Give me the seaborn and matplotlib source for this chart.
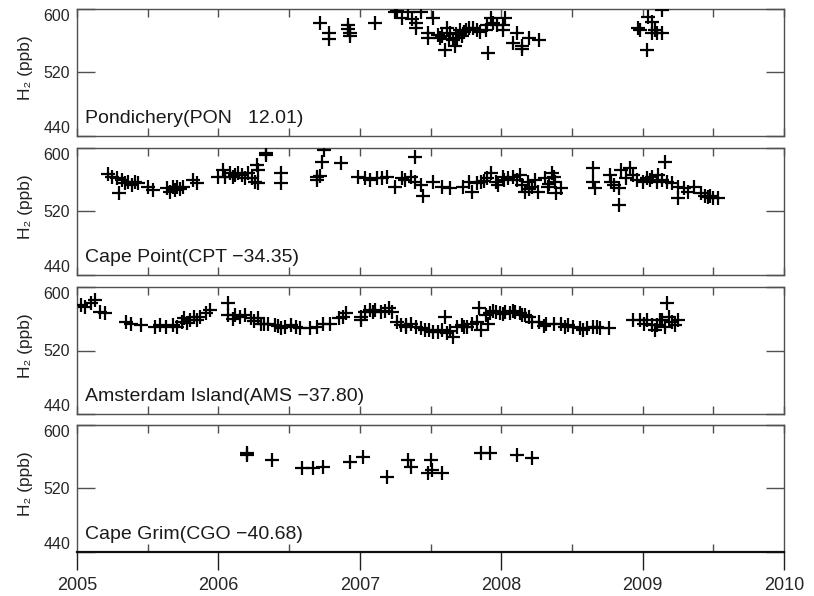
import numpy as np
import pandas as pd
import matplotlib
matplotlib.use("Agg")
import matplotlib.pyplot as plt
import seaborn as sns

# ---- station metadata ----
stations = ["Pondichery(PON   12.01)", "Cape Point(CPT \u221234.35)",
            "Amsterdam Island(AMS \u221237.80)", "Cape Grim(CGO \u221240.68)"]

# ---- H2 mixing ratios (ppb) vs decimal year ----
pon_year = [2006.72, 2006.78, 2006.78, 2006.92, 2006.92, 2006.93, 2006.93, 2007.11,
            2007.25, 2007.26, 2007.30, 2007.34, 2007.37, 2007.40, 2007.43, 2007.40,
            2007.52, 2007.48, 2007.48, 2007.55, 2007.57, 2007.60, 2007.62, 2007.64,
            2007.66, 2007.67, 2007.69, 2007.71, 2007.74, 2007.77, 2007.80, 2007.83,
            2007.85, 2007.89, 2007.90, 2007.93, 2007.94, 2007.97, 2008.01, 2008.03,
            2008.01, 2007.91, 2008.08, 2008.11, 2008.15, 2008.15, 2008.20, 2008.27,
            2008.97, 2008.98, 2009.04, 2009.07, 2009.09, 2009.10, 2009.14, 2009.03,
            2009.14, 2009.07, 2007.58, 2007.63, 2007.68, 2007.72, 2007.75]
pon_h2 = [582, 569.5, 562, 580, 575, 569.5, 566, 582,
          596, 598, 589, 596, 587, 582, 596, 576,
          589, 569.5, 563, 567, 563, 548, 576, 569.5,
          561, 554, 564, 573, 571, 576, 576, 573,
          571, 573, 580, 589, 582, 580, 573, 589,
          580, 544, 557, 569.5, 554, 550, 563, 561,
          576, 574, 590, 583, 573, 569.5, 569.5, 548,
          598.7, 569.5, 566, 562, 568, 566, 574]

cpt_year = [2005.22, 2005.25, 2005.28, 2005.30, 2005.32, 2005.34, 2005.36, 2005.39,
            2005.41, 2005.43, 2005.50, 2005.54, 2005.64, 2005.66, 2005.68, 2005.71,
            2005.75, 2005.82, 2005.85, 2006.00, 2006.03, 2006.05, 2006.08, 2006.12,
            2006.14, 2006.17, 2006.21, 2006.24, 2006.26, 2006.28, 2006.27, 2006.28,
            2006.34, 2006.34, 2006.44, 2006.44, 2006.70, 2006.70, 2006.73, 2006.75,
            2006.87, 2006.99, 2007.04, 2007.07, 2007.12, 2007.16, 2007.19, 2007.25,
            2007.30, 2007.32, 2007.36, 2007.39, 2007.39, 2007.43, 2007.45, 2007.52,
            2007.58, 2007.64, 2007.73, 2007.77, 2007.79, 2007.83, 2007.86, 2007.90,
            2007.93, 2007.96, 2007.98, 2008.01, 2008.05, 2008.08, 2008.11, 2008.13,
            2008.15, 2008.17, 2008.19, 2008.22, 2008.24, 2008.26, 2008.31, 2008.33,
            2008.36, 2008.37, 2008.38, 2008.39, 2008.42, 2008.65, 2008.65, 2008.66,
            2008.77, 2008.78, 2008.80, 2008.83, 2008.83, 2008.85, 2008.88, 2008.91,
            2008.93, 2008.96, 2009.00, 2009.03, 2009.07, 2009.10, 2009.11, 2009.16,
            2009.17, 2009.21, 2009.25, 2009.25, 2009.29, 2009.32, 2009.36, 2009.41,
            2009.44, 2009.46, 2009.50, 2009.53, 2005.69, 2005.73, 2006.10, 2006.19,
            2006.72, 2007.88, 2008.02, 2008.20, 2008.34, 2009.05, 2009.14, 2009.48]
cpt_h2 = [567, 563, 562, 543, 559.4, 555.5, 556.8, 553,
          556.8, 555.5, 550.5, 546.7, 549, 544, 550.5, 550.5,
          550.5, 559.4, 555.5, 563, 572, 563, 568, 565.7,
          568, 565.7, 568, 562, 556.8, 555.5, 578.4, 572,
          593.7, 591, 568, 555.5, 563, 559.4, 582, 597.5,
          581, 563, 562, 559.4, 562, 562, 563, 550.5,
          562, 559.4, 563, 588.6, 556.8, 553, 540, 556.8,
          550.5, 549, 550.5, 556.8, 544, 555.5, 556.8, 562,
          568, 556.8, 553, 563, 562, 563, 559.4, 565.7,
          553, 544, 556.8, 550.5, 559.4, 544, 562, 550.5,
          568, 563, 556.8, 543, 549, 574.6, 556.8, 549,
          565.7, 556.8, 553, 549, 527.6, 572, 562, 574.6,
          565.7, 559.4, 556.8, 562, 563, 556.8, 565.7, 582,
          556.8, 555.5, 550.5, 536.5, 549, 544, 550.5, 543,
          540, 538, 536.5, 536.5, 547, 548, 563, 562,
          565, 559, 560, 548, 555, 560, 560, 540]

ams_year = [2005.03, 2005.06, 2005.10, 2005.13, 2005.16, 2005.20, 2005.35, 2005.38,
            2005.45, 2005.55, 2005.59, 2005.63, 2005.68, 2005.71, 2005.74, 2005.76,
            2005.80, 2005.83, 2005.87, 2005.91, 2005.94, 2006.07, 2006.07, 2006.12,
            2006.15, 2006.19, 2006.23, 2006.28, 2006.32, 2006.35, 2006.40, 2006.44,
            2006.47, 2006.51, 2006.55, 2006.58, 2006.65, 2006.70, 2006.74, 2006.79,
            2006.85, 2006.88, 2006.90, 2007.01, 2007.01, 2007.04, 2007.07, 2007.11,
            2007.15, 2007.21, 2007.23, 2007.26, 2007.29, 2007.33, 2007.33, 2007.40,
            2007.46, 2007.52, 2007.58, 2007.60, 2007.62, 2007.66, 2007.69, 2007.72,
            2007.76, 2007.79, 2007.83, 2007.84, 2007.86, 2007.89, 2007.91, 2007.92,
            2007.96, 2007.99, 2008.03, 2008.06, 2008.10, 2008.13, 2008.17, 2008.20,
            2008.22, 2008.27, 2008.32, 2008.37, 2008.42, 2008.47, 2008.51, 2008.56,
            2008.61, 2008.65, 2008.70, 2008.76, 2008.93, 2008.98, 2009.03, 2009.07,
            2009.09, 2009.12, 2009.16, 2009.17, 2009.19, 2009.21, 2009.25,
            2005.78, 2005.85, 2006.10, 2006.25, 2006.30, 2006.42, 2007.09, 2007.18,
            2007.36, 2007.43, 2007.49, 2007.55, 2007.64, 2007.74, 2007.94, 2008.01,
            2008.08, 2008.15, 2008.30, 2008.45, 2008.58, 2008.68, 2009.01, 2009.10,
            2009.14, 2009.23]
ams_h2 = [577, 574.6, 579.7, 583.5, 568, 567, 555.5, 554,
          551.7, 549, 551.7, 549, 551.7, 549, 555.5, 560.6,
          558, 562, 562, 567, 570.8, 579.7, 564.4, 564.4,
          562, 564.4, 560.6, 560.6, 554, 554, 551.7, 548,
          549, 551.7, 549, 548, 548, 549, 554, 554,
          560.6, 562, 567, 562, 558, 568, 570.8, 570.8,
          568, 573.3, 568, 555.5, 551.7, 549, 551.7, 549,
          545.4, 543, 545.4, 562, 541.6, 536.5, 549, 551.7,
          549, 554, 555.5, 573.3, 545.4, 564.4, 554, 567,
          568, 567, 568, 567, 568, 567, 564.4, 562,
          555.5, 555.5, 554, 554, 554, 551.7, 549, 548,
          548, 549, 548, 548, 558, 558, 558, 551.7,
          545.4, 558, 549, 579.7, 562, 555.5, 558,
          555, 558, 560, 557, 553, 551, 568, 570,
          553, 548, 546, 543, 545, 549, 570, 566,
          570, 565, 551, 550, 546, 550, 554, 552,
          559, 552]

cgo_year = [2006.20, 2006.38, 2006.59, 2006.67, 2006.74, 2006.93, 2007.02, 2007.19,
            2007.34, 2007.36, 2007.48, 2007.50, 2007.51, 2007.58, 2007.86, 2007.92,
            2008.11, 2008.22, 2006.20]
cgo_h2 = [564.4, 555.5, 545.4, 545.4, 546.7, 553, 559.4, 534,
          555.5, 546.7, 539, 555.5, 543, 539, 564.4, 564.4,
          562, 558, 562]

series = [(pon_year, pon_h2), (cpt_year, cpt_h2), (ams_year, ams_h2), (cgo_year, cgo_h2)]

frames = []
for name, (yr, h2) in zip(stations, series):
    frames.append(pd.DataFrame({"year": yr, "h2": h2, "station": name}))
data = pd.concat(frames, ignore_index=True)

sns.set_style("ticks")
plt.rcParams["font.family"] = ["Liberation Sans", "DejaVu Sans"]

W, H = 814, 596
fig = plt.figure(figsize=(W / 100, H / 100), dpi=100)

left_px, right_px = 77, 784
panel_tops = [9, 148, 287, 425]
panel_h = 127
frame_col = "#505050"

axes = []
for i, name in enumerate(stations):
    top = panel_tops[i]
    rect = [left_px / W, 1 - (top + panel_h) / H, (right_px - left_px) / W, panel_h / H]
    ax = fig.add_axes(rect)
    sub = data[data["station"] == name]
    sns.scatterplot(data=sub, x="year", y="h2", marker="+", s=110, color="black",
                    linewidth=1.6, ax=ax, legend=False, zorder=3)
    ax.set_xlim(2005, 2010)
    ax.set_ylim(440, 600)
    ax.set_yticks([440, 520, 600])
    ax.set_xlabel("")
    ax.set_ylabel("H\u2082 (ppb)", fontsize=12.5, color="#222222")
    ax.yaxis.set_label_coords(-0.062, 0.54)
    for sp in ax.spines.values():
        sp.set_visible(True)
        sp.set_color(frame_col)
        sp.set_linewidth(1.0)
    ax.tick_params(axis="y", which="major", direction="in", length=13, width=1.0,
                   left=True, right=True, color=frame_col, labelsize=11.5, pad=5)
    # keep the end labels inside their own panel
    ylabels = ax.get_yticklabels()
    ylabels[0].set_verticalalignment("bottom")
    ylabels[-1].set_verticalalignment("top")
    ax.text(0.011, 0.105, name, transform=ax.transAxes, fontsize=14,
            ha="left", va="baseline", color="#1a1a1a")
    if i < 3:
        ax.set_xticks(np.arange(2005, 2010.01, 0.5))
        ax.tick_params(axis="x", which="major", direction="in", length=6, width=1.0,
                       top=True, bottom=True, labelbottom=False, color=frame_col)
    else:
        ax.set_xticks(np.arange(2005, 2010.01, 1.0))
        ax.set_xticks(np.arange(2005.5, 2010, 1.0), minor=True)
        ax.set_xticklabels([str(y) for y in range(2005, 2011)])
        ax.tick_params(axis="x", which="major", direction="out", length=13, width=1.0,
                       top=False, bottom=True, color="#202020", labelsize=13, pad=5)
        ax.tick_params(axis="x", which="minor", direction="in", length=6, width=1.0,
                       top=False, bottom=True, color=frame_col)
        ax.spines["bottom"].set_color("#101010")
        ax.spines["bottom"].set_linewidth(1.6)
        top_ax = ax.secondary_xaxis("top")
        top_ax.set_xticks(np.arange(2005, 2010.01, 0.5))
        top_ax.tick_params(axis="x", direction="in", length=6, width=1.0,
                           labeltop=False, color=frame_col)
        top_ax.spines["top"].set_color(frame_col)
    axes.append(ax)

fig.savefig("out.png", dpi=100)
